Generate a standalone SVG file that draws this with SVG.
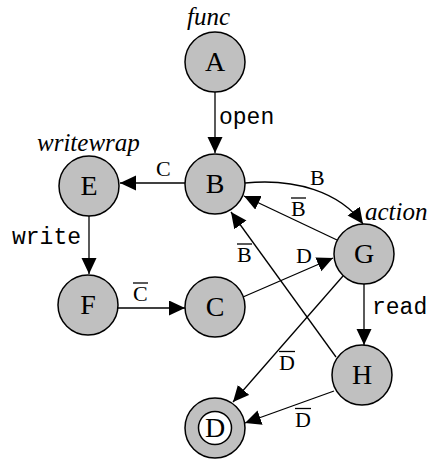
<svg xmlns="http://www.w3.org/2000/svg" width="435" height="459" viewBox="0 0 435 459">
<style>
.node{fill:#c0c0c0;stroke:#000;stroke-width:1.5}
.inner{fill:#fff;stroke:#000;stroke-width:1.5}
.nl{font-family:"Liberation Serif",serif;font-size:28px;text-anchor:middle;fill:#000}
.tag{font-family:"Liberation Serif",serif;font-size:25px;font-style:italic;fill:#000}
.el{font-family:"Liberation Serif",serif;font-size:22px;fill:#000}
.ovl{stroke:#000;stroke-width:1.3}
.mono{font-family:"Liberation Mono",monospace;font-size:23px;fill:#000}
.edge{fill:none;stroke:#000;stroke-width:1.3;marker-end:url(#arr)}
</style>
<defs>
<marker id="arr" markerUnits="userSpaceOnUse" markerWidth="17" markerHeight="16" refX="16" refY="7.5" orient="auto">
<path d="M0,0 L16,7.5 L0,15 z" fill="#000"/>
</marker>
</defs>
<g id="edges">
<path class="edge" d="M215,92 L215,153"/>
<path class="edge" d="M185,183 L120,183"/>
<path class="edge" d="M89,216 L89,274"/>
<path class="edge" d="M118,308 L185,308"/>
<path class="edge" d="M245,183 C295,178 340,192 363,224"/>
<path class="edge" d="M337,240 L244,196"/>
<path class="edge" d="M336,357 L231,212"/>
<path class="edge" d="M243,297 L333,258"/>
<path class="edge" d="M343,276 L233,402"/>
<path class="edge" d="M364,284 L364,345"/>
<path class="edge" d="M334,391 L245,423"/>
<text class="mono" x="219" y="124">open</text>
<text class="el" x="156" y="176">C</text>
<text class="mono" x="12" y="244">write</text>
<text class="el" x="133" y="301">C</text><line class="ovl" x1="133" y1="283" x2="148" y2="283"/>
<text class="el" x="310" y="185">B</text>
<text class="el" x="291" y="216">B</text><line class="ovl" x1="291" y1="198" x2="306" y2="198"/>
<text class="el" x="237" y="262">B</text><line class="ovl" x1="237" y1="244" x2="252" y2="244"/>
<text class="el" x="296" y="263">D</text>
<text class="el" x="279" y="370">D</text><line class="ovl" x1="279" y1="351.5" x2="295" y2="351.5"/>
<text class="el" x="295" y="427">D</text><line class="ovl" x1="295" y1="408.5" x2="311" y2="408.5"/>
<text class="mono" x="372" y="314">read</text>
</g>
<g id="A"><circle class="node" cx="215" cy="62" r="30"/><text class="nl" x="215" y="71">A</text><text class="tag" x="187" y="25">func</text></g>
<g id="B"><circle class="node" cx="215" cy="184" r="30"/><text class="nl" x="215" y="193">B</text></g>
<g id="E"><circle class="node" cx="89" cy="186" r="30"/><text class="nl" x="89" y="195">E</text><text class="tag" x="37" y="151">writewrap</text></g>
<g id="F"><circle class="node" cx="88" cy="305" r="30"/><text class="nl" x="88" y="314">F</text></g>
<g id="C"><circle class="node" cx="215" cy="307" r="30"/><text class="nl" x="215" y="316">C</text></g>
<g id="G"><circle class="node" cx="364" cy="254" r="30"/><text class="nl" x="364" y="263">G</text><text class="tag" x="365" y="220">action</text></g>
<g id="H"><circle class="node" cx="362" cy="375" r="30"/><text class="nl" x="362" y="384">H</text></g>
<g id="D"><circle class="node" cx="215" cy="428" r="30"/><circle class="inner" cx="215" cy="428" r="16.5"/><text class="nl" x="215" y="437">D</text></g>
</svg>
